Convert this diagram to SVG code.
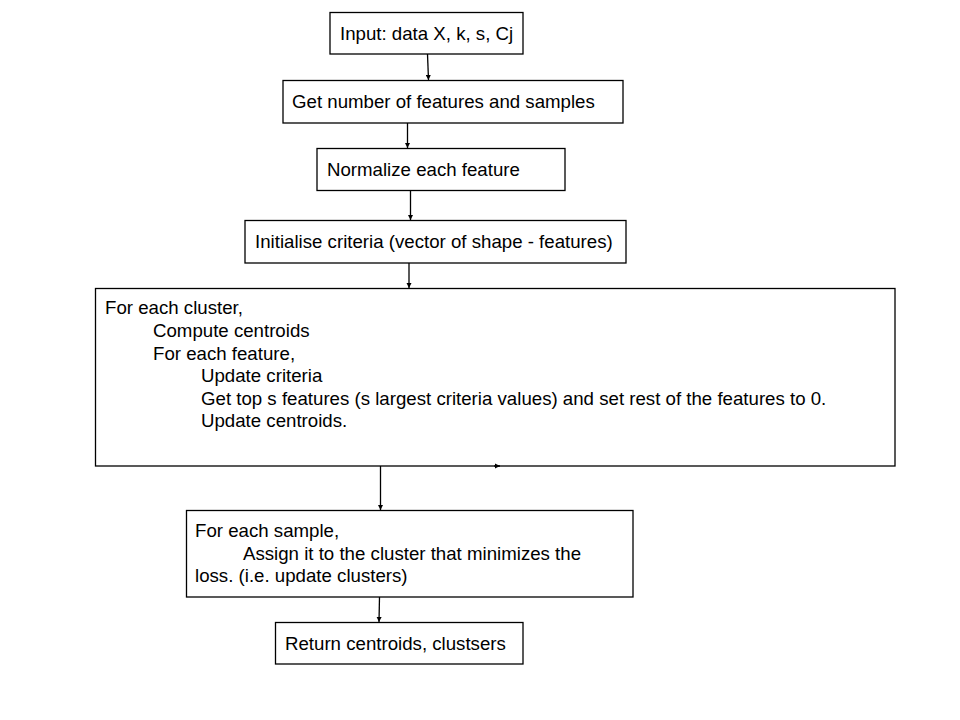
<svg xmlns="http://www.w3.org/2000/svg" width="960" height="720" viewBox="0 0 960 720">
<style>
.box{fill:#fff;stroke:#000;stroke-width:1.3}
.t{font-family:"Liberation Sans",Arial,sans-serif;font-size:18.67px;fill:#000}
.c{stroke:#000;stroke-width:1.3;fill:none}
</style>
<defs>
<marker id="ah" viewBox="0 0 10 10" refX="10" refY="5" markerWidth="4" markerHeight="4" markerUnits="strokeWidth" orient="auto">
<path d="M0,0 L10,5 L0,10 z" fill="#000"/>
</marker>
</defs>
<rect width="960" height="720" fill="#fff"/>
<g id="n1"><rect class="box" x="330" y="12.5" width="193" height="41.5"/><text class="t" x="340" y="39.5">Input: data X, k, s, Cj</text></g>
<g id="n2"><rect class="box" x="283" y="80.5" width="340" height="42.5"/><text class="t" x="292" y="108">Get number of features and samples</text></g>
<g id="n3"><rect class="box" x="317" y="148.5" width="248" height="42"/><text class="t" x="327" y="175.5">Normalize each feature</text></g>
<g id="n4"><rect class="box" x="245" y="220.5" width="381" height="42.5"/><text class="t" x="255" y="248">Initialise criteria (vector of shape - features)</text></g>
<g id="n5"><rect class="box" x="95.5" y="288.5" width="799.5" height="177.5"/>
<text class="t" x="105" y="314">For each cluster,</text>
<text class="t" x="153" y="337">Compute centroids</text>
<text class="t" x="153" y="359.5">For each feature,</text>
<text class="t" x="201" y="382">Update criteria</text>
<text class="t" x="201" y="404.5">Get top s features (s largest criteria values) and set rest of the features to 0.</text>
<text class="t" x="201" y="427">Update centroids.</text>
</g>
<g id="n6"><rect class="box" x="186.5" y="510.5" width="446.5" height="86.5"/>
<text class="t" x="195" y="537">For each sample,</text>
<text class="t" x="243" y="559.5">Assign it to the cluster that minimizes the</text>
<text class="t" x="195" y="582">loss. (i.e. update clusters)</text>
</g>
<g id="n7"><rect class="box" x="275.5" y="622.5" width="247.5" height="41.5"/><text class="t" x="285" y="649.5">Return centroids, clustsers</text></g>
<g id="connectors">
<line class="c" x1="427.5" y1="54" x2="428.5" y2="80" marker-end="url(#ah)"/>
<line class="c" x1="407.5" y1="123" x2="407.5" y2="148" marker-end="url(#ah)"/>
<line class="c" x1="410.5" y1="191" x2="410.5" y2="220" marker-end="url(#ah)"/>
<line class="c" x1="409" y1="263" x2="409" y2="288" marker-end="url(#ah)"/>
<line class="c" x1="380.5" y1="466" x2="380.5" y2="510" marker-end="url(#ah)"/>
<line class="c" x1="494" y1="466" x2="500" y2="466" marker-end="url(#ah)"/>
<line class="c" x1="379.5" y1="597" x2="379" y2="622" marker-end="url(#ah)"/>
</g>
</svg>
